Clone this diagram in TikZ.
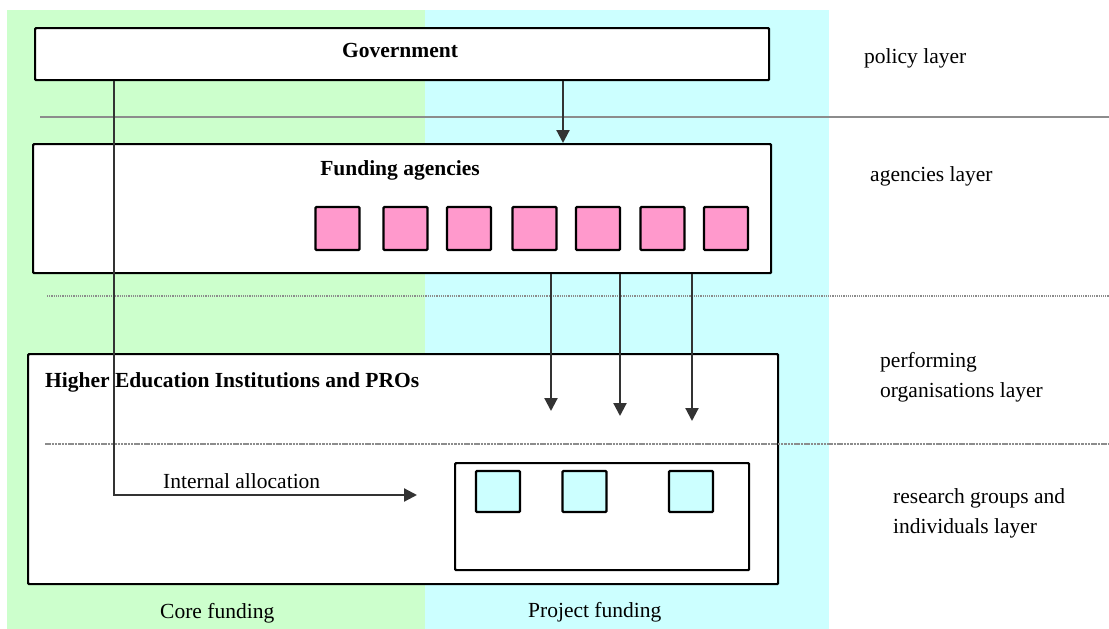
\documentclass[tikz,border=0pt]{standalone}
\usepackage{fontspec}
\setmainfont{Liberation Serif}
\usetikzlibrary{arrows.meta}

\definecolor{corefill}{RGB}{204,255,204}
\definecolor{projectfill}{RGB}{204,255,255}
\definecolor{agencyfill}{RGB}{255,153,204}
\definecolor{groupfill}{RGB}{204,255,255}

\tikzset{
    txt/.style={font=\fontsize{21.5}{30}\selectfont, inner sep=0pt, anchor=base west, align=left},
    title/.style={txt, font=\fontsize{21.5}{30}\selectfont\bfseries},
    box/.style={draw, line width=2.2pt, fill=white, rounded corners=1pt, anchor=north west, inner sep=0pt},
    unit/.style={box, anchor=center},
    agency/.style={unit, fill=agencyfill, minimum width=44pt, minimum height=43pt},
    group/.style={unit, fill=groupfill, minimum width=44pt, minimum height=41pt},
    flow/.style={line width=2.2pt, draw=black!80, -{Triangle[length=13pt,width=13pt]}},
    sep/.style={line width=2pt, draw=black!45}
}

\begin{document}
\begin{tikzpicture}[x=1pt, y=-1pt]
    \useasboundingbox (0,0) rectangle (1109,629);
    \fill[corefill] (7,10) rectangle (425,629);
    \fill[projectfill] (425,10) rectangle (829,629);

    \node[box, minimum width=734pt, minimum height=52pt] (gov) at (34,27) {};
    \node[box, minimum width=738pt, minimum height=129pt] (agencies) at (32,143) {};
    \node[box, minimum width=750pt, minimum height=230pt] (hei) at (27,353) {};
    \node[box, minimum width=294pt, minimum height=107pt] (groups) at (454,462) {};

    \foreach \x [count=\i] in {337.5,405.5,469,534.5,598,662.5,726}
        \node[agency] (a\i) at (\x,228.5) {};
    \foreach \x [count=\i] in {498,584.5,691}
        \node[group] (g\i) at (\x,491.5) {};

    \draw[sep] (40,117) -- (1109,117);
    \draw[sep, dash pattern=on 1.2pt off 1pt] (47,296) -- (1109,296);
    \draw[sep, dash pattern=on 2.5pt off 0.8pt] (45,444) -- (1109,444);

    \coordinate (agin) at (563,143);
    \coordinate (alloc) at (417,495);
    \coordinate (t1) at (551,411);
    \coordinate (t2) at (620,416);
    \coordinate (t3) at (692,421);

    \draw[flow] (gov.south -| agin) -- (agin);
    \draw[flow] ([xshift=80pt]gov.south west) |- (alloc);
    \draw[flow] (agencies.south -| t1) -- (t1);
    \draw[flow] (agencies.south -| t2) -- (t2);
    \draw[flow] (agencies.south -| t3) -- (t3);

    \node[title, anchor=base] (govlabel) at (400,57) {Government};
    \node[title, anchor=base] (aglabel) at (400,175) {Funding agencies};
    \node[title] (heilabel) at (45,387) {Higher Education Institutions and PROs};
    \node[txt] (alloclabel) at (163,488) {Internal allocation};
    \node[txt] (core) at (160,618) {Core funding};
    \node[txt] (project) at (528,617) {Project funding};

    \node[txt] (policy) at (864,63) {policy layer};
    \node[txt] (aglayer) at (870,181) {agencies layer};
    \node[txt] (perflayer) at (880,397) {performing\\organisations layer};
    \node[txt] (reslayer) at (893,533) {research groups and\\individuals layer};
\end{tikzpicture}
\end{document}
